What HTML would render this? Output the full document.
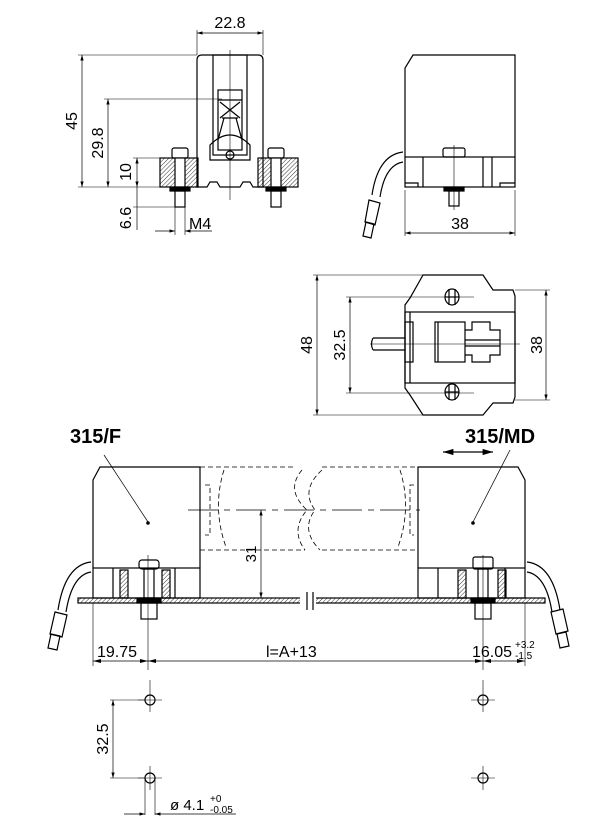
<!DOCTYPE html>
<html><head><meta charset="utf-8"><style>
html,body{margin:0;padding:0;background:#fff;}
svg{display:block;}
text{font-family:"Liberation Sans",sans-serif;fill:#000;}
</style></head><body>
<svg width="608" height="831" viewBox="0 0 608 831" xmlns="http://www.w3.org/2000/svg">
<defs>
<pattern id="h" width="3" height="3" patternUnits="userSpaceOnUse" patternTransform="rotate(45)">
<line x1="0" y1="0" x2="0" y2="3" stroke="#000" stroke-width="0.8"/></pattern>
<marker id="a" viewBox="0 0 10 6" refX="10" refY="3" markerWidth="8" markerHeight="5" orient="auto-start-reverse"><path d="M0,0 L10,3 L0,6z" fill="#000"/></marker>
</defs>
<g fill="none" stroke="#000" stroke-width="1.2">
<path d="M197,60 Q197,55 202,55 L258,55 Q263,55 263,60 L263,160"/>
<line x1="197" y1="60" x2="197" y2="160"/>
<rect x="213" y="55" width="34" height="100"/>
<rect x="218" y="90" width="24" height="60"/>
<path d="M218,100 L242,100 M220,102 L240,118 M240,102 L220,118 M222,118 L238,118 M224,118 L218,140 M236,118 L242,140 M210,145 Q230,125 250,145 L250,160 L210,160z"/>
<circle cx="230" cy="155" r="4"/>
<line x1="230" y1="50" x2="230" y2="200" stroke-width="0.6"/>
<path d="M197,160 L197,187 L207,187 L210,182 L217,182 L220,187 L240,187 L243,182 L250,182 L253,187 L263,187 L263,160"/>
<rect x="160" y="158" width="38" height="29" fill="url(#h)"/>
<rect x="258" y="158" width="40" height="29" fill="url(#h)"/>
<rect x="172" y="148" width="16" height="10" rx="2" fill="#fff"/>
<rect x="175" y="158" width="10" height="29" fill="#fff"/>
<rect x="170" y="187" width="20" height="4" fill="#000"/>
<rect x="175" y="191" width="10" height="16"/>
<rect x="268" y="148" width="16" height="10" rx="2" fill="#fff"/>
<rect x="271" y="158" width="10" height="29" fill="#fff"/>
<rect x="266" y="187" width="20" height="4" fill="#000"/>
<rect x="271" y="191" width="10" height="16"/>
<line x1="197" y1="30" x2="197" y2="55" stroke-width="0.6"/>
<line x1="263" y1="30" x2="263" y2="55" stroke-width="0.6"/>
<line x1="197" y1="33" x2="263" y2="33" stroke-width="0.7" marker-start="url(#a)" marker-end="url(#a)"/>
<line x1="78" y1="55" x2="197" y2="55" stroke-width="0.6"/>
<line x1="78" y1="187" x2="197" y2="187" stroke-width="0.6"/>
<line x1="82" y1="55" x2="82" y2="187" stroke-width="0.7" marker-start="url(#a)" marker-end="url(#a)"/>
<line x1="104" y1="99" x2="222" y2="99" stroke-width="0.6"/>
<line x1="108" y1="99" x2="108" y2="187" stroke-width="0.7" marker-start="url(#a)" marker-end="url(#a)"/>
<line x1="133" y1="158" x2="160" y2="158" stroke-width="0.6"/>
<line x1="137" y1="158" x2="137" y2="187" stroke-width="0.7" marker-start="url(#a)" marker-end="url(#a)"/>
<line x1="133" y1="207" x2="175" y2="207" stroke-width="0.6"/>
<line x1="137" y1="187" x2="137" y2="230" stroke-width="0.7"/>
<line x1="175" y1="207" x2="175" y2="235" stroke-width="0.6"/>
<line x1="185" y1="207" x2="185" y2="235" stroke-width="0.6"/>
<line x1="155" y1="231" x2="175" y2="231" stroke-width="0.7" marker-end="url(#a)"/>
<line x1="212" y1="231" x2="185" y2="231" stroke-width="0.7" marker-end="url(#a)"/>

<path d="M405,157 L405,68 L413,55 L515,55 L515,157"/>
<rect x="405" y="157" width="110" height="30"/>
<line x1="423" y1="157" x2="423" y2="187"/><line x1="483" y1="157" x2="483" y2="187"/><line x1="492" y1="157" x2="492" y2="187"/>
<path d="M405,183 L418,183 L418,187 M515,183 L500,183 L500,187"/>
<rect x="443" y="148" width="22" height="9" rx="2"/>
<rect x="444" y="187" width="20" height="4" fill="#000"/>
<rect x="449" y="191" width="10" height="15"/>
<line x1="454" y1="145" x2="454" y2="210" stroke-width="0.6"/>
<path d="M403,152 Q378,155 372,195 M403,162 Q385,165 380,197"/>
<path d="M369,200 L380,203 L375,225 L365,222z"/>
<path d="M366,222 L374,224 L371,238 L363,236z"/>
<line x1="405" y1="190" x2="405" y2="236" stroke-width="0.6"/>
<line x1="515" y1="190" x2="515" y2="236" stroke-width="0.6"/>
<line x1="405" y1="233" x2="515" y2="233" stroke-width="0.7" marker-start="url(#a)" marker-end="url(#a)"/>

<path d="M423,275 L483,275 L493,290 L513,290 L515,296 L515,397 L513,403 L493,403 L483,415 L423,415 L410,395 L405,388 L405,305 L410,298z"/>
<rect x="405" y="312" width="110" height="71"/>
<line x1="410" y1="312" x2="410" y2="383"/>
<rect x="405" y="322" width="8" height="40"/>
<rect x="435" y="322" width="30" height="40"/>
<path d="M465,330 L472,330 L472,322 L490,322 L490,330 L500,330 L500,355 L490,355 L490,362 L472,362 L472,355 L465,355"/>
<line x1="438" y1="322" x2="438" y2="362"/>
<path d="M373,338 L405,338 M373,350 L405,350 M373,338 Q370,344 373,350"/>
<line x1="465" y1="340" x2="500" y2="340"/><line x1="465" y1="346" x2="500" y2="346"/>
<line x1="370" y1="344" x2="520" y2="344" stroke-width="0.6"/>
<ellipse cx="452" cy="297" rx="7" ry="8"/><line x1="449" y1="289" x2="449" y2="305"/><line x1="455" y1="289" x2="455" y2="305"/><line x1="445" y1="297" x2="459" y2="297"/>
<ellipse cx="452" cy="392" rx="7" ry="8"/><line x1="449" y1="384" x2="449" y2="400"/><line x1="455" y1="384" x2="455" y2="400"/><line x1="445" y1="392" x2="459" y2="392"/>
<line x1="313" y1="275" x2="423" y2="275" stroke-width="0.6"/>
<line x1="313" y1="415" x2="423" y2="415" stroke-width="0.6"/>
<line x1="317" y1="275" x2="317" y2="415" stroke-width="0.7" marker-start="url(#a)" marker-end="url(#a)"/>
<line x1="346" y1="297" x2="474" y2="297" stroke-width="0.6"/>
<line x1="346" y1="393" x2="474" y2="393" stroke-width="0.6"/>
<line x1="350" y1="297" x2="350" y2="393" stroke-width="0.7" marker-start="url(#a)" marker-end="url(#a)"/>
<line x1="515" y1="290" x2="550" y2="290" stroke-width="0.6"/>
<line x1="515" y1="400" x2="550" y2="400" stroke-width="0.6"/>
<line x1="546" y1="290" x2="546" y2="400" stroke-width="0.7" marker-start="url(#a)" marker-end="url(#a)"/>

<rect x="78" y="598" width="467" height="5" fill="url(#h)"/>
<rect x="300" y="596" width="16" height="9" fill="#fff" stroke="none"/>
<line x1="307" y1="592" x2="307" y2="610"/><line x1="313" y1="592" x2="313" y2="610"/>
<path d="M93,568 L93,480 L100,467 L200,467 L200,568"/>
<rect x="93" y="568" width="107" height="30"/>
<line x1="113" y1="568" x2="113" y2="598"/><line x1="175" y1="568" x2="175" y2="598"/>
<rect x="120" y="570" width="8" height="28" fill="url(#h)"/>
<rect x="162" y="570" width="8" height="28" fill="url(#h)"/>
<rect x="139" y="560" width="20" height="9" rx="3"/>
<rect x="144" y="569" width="10" height="29"/>
<rect x="137" y="598" width="24" height="5" fill="#000"/>
<rect x="141" y="603" width="16" height="16"/>
<line x1="148" y1="555" x2="148" y2="670" stroke-width="0.6"/>
<path d="M91,562 Q65,565 58,610 M91,572 Q72,575 66,612"/>
<path d="M55,612 L67,615 L62,637 L50,634z"/><path d="M51,634 L60,636 L57,650 L48,648z"/>
<path d="M418,568 L418,467 L518,467 L525,480 L525,568"/>
<rect x="418" y="568" width="107" height="30"/>
<line x1="438" y1="568" x2="438" y2="598"/><line x1="505" y1="568" x2="505" y2="598"/>
<rect x="458" y="570" width="8" height="28" fill="url(#h)"/>
<rect x="498" y="570" width="8" height="28" fill="url(#h)"/>
<rect x="473" y="557" width="20" height="12" rx="2"/>
<rect x="478" y="569" width="10" height="29"/>
<rect x="471" y="598" width="24" height="5" fill="#000"/>
<rect x="475" y="603" width="16" height="16"/>
<line x1="483" y1="555" x2="483" y2="670" stroke-width="0.6"/>
<path d="M527,562 Q553,565 560,610 M527,572 Q546,575 552,612"/>
<path d="M551,612 L563,609 L568,631 L556,634z"/><path d="M557,634 L566,632 L569,646 L560,648z"/>
<g stroke-dasharray="5,3" stroke-width="0.8">
<line x1="200" y1="467" x2="295" y2="467"/><line x1="322" y1="467" x2="418" y2="467"/>
<line x1="200" y1="550" x2="305" y2="550"/><line x1="322" y1="550" x2="418" y2="550"/>
<path d="M224,470 Q212,508 226,547"/><path d="M400,470 Q412,508 398,547"/>
<path d="M302,470 Q285,490 307,510 Q290,530 305,550"/>
<path d="M322,470 Q300,490 315,510 Q300,530 320,550"/>
<path d="M205,485 L210,485 L210,535 L205,535 M414,485 L410,485 L410,535 L414,535"/>
</g>
<line x1="188" y1="510" x2="420" y2="510" stroke-dasharray="30,6,6,6" stroke-width="0.8"/>
<line x1="261" y1="510" x2="261" y2="598" stroke-width="0.7" marker-start="url(#a)" marker-end="url(#a)"/>
<line x1="104" y1="455" x2="148" y2="522" stroke-width="0.7"/>
<circle cx="148" cy="523" r="1.2" fill="#000"/>
<line x1="510" y1="450" x2="473" y2="522" stroke-width="0.7"/>
<circle cx="473" cy="523" r="1.2" fill="#000"/>
<line x1="443" y1="452" x2="493" y2="452" stroke-width="1.3" marker-start="url(#a)" marker-end="url(#a)"/>
<line x1="93" y1="603" x2="93" y2="666" stroke-width="0.6"/>
<line x1="525" y1="603" x2="525" y2="666" stroke-width="0.6"/>
<line x1="93" y1="661" x2="525" y2="661" stroke-width="0.7"/>
<path d="M93,661 l8,-2 v4z M148,661 l-8,-2 v4z M148,661 l8,-2 v4z M483,661 l-8,-2 v4z M483,661 l8,-2 v4z M525,661 l-8,-2 v4z" fill="#000" stroke="none"/>
<line x1="150" y1="680" x2="150" y2="712" stroke-width="0.6"/><line x1="138" y1="700" x2="162" y2="700" stroke-width="0.6"/><circle cx="150" cy="700" r="5"/>
<line x1="150" y1="766" x2="150" y2="790" stroke-width="0.6"/><line x1="138" y1="778" x2="162" y2="778" stroke-width="0.6"/><circle cx="150" cy="778" r="5"/>
<line x1="483" y1="680" x2="483" y2="712" stroke-width="0.6"/><line x1="471" y1="700" x2="495" y2="700" stroke-width="0.6"/><circle cx="483" cy="700" r="5"/>
<line x1="483" y1="766" x2="483" y2="790" stroke-width="0.6"/><line x1="471" y1="778" x2="495" y2="778" stroke-width="0.6"/><circle cx="483" cy="778" r="5"/>
<line x1="110" y1="700" x2="145" y2="700" stroke-width="0.6"/><line x1="110" y1="778" x2="145" y2="778" stroke-width="0.6"/>
<line x1="113" y1="700" x2="113" y2="778" stroke-width="0.7" marker-start="url(#a)" marker-end="url(#a)"/>
<line x1="145" y1="778" x2="145" y2="815" stroke-width="0.6"/><line x1="155" y1="778" x2="155" y2="815" stroke-width="0.6"/>
<line x1="124" y1="814" x2="145" y2="814" stroke-width="0.7" marker-end="url(#a)"/>
<line x1="236" y1="814" x2="155" y2="814" stroke-width="0.7" marker-end="url(#a)"/>
</g>
<text x="230" y="28" font-size="16" text-anchor="middle">22.8</text>
<text x="77" y="121" font-size="16" text-anchor="middle" transform="rotate(-90 77 121)">45</text>
<text x="103" y="143" font-size="16" text-anchor="middle" transform="rotate(-90 103 143)">29.8</text>
<text x="131" y="172" font-size="16" text-anchor="middle" transform="rotate(-90 131 172)">10</text>
<text x="131" y="218" font-size="16" text-anchor="middle" transform="rotate(-90 131 218)">6.6</text>
<text x="189" y="229" font-size="16">M4</text>
<text x="460" y="229" font-size="16" text-anchor="middle">38</text>
<text x="312" y="345" font-size="16" text-anchor="middle" transform="rotate(-90 312 345)">48</text>
<text x="345" y="345" font-size="16" text-anchor="middle" transform="rotate(-90 345 345)">32.5</text>
<text x="542" y="345" font-size="16" text-anchor="middle" transform="rotate(-90 542 345)">38</text>
<text x="70" y="443" font-size="20" font-weight="bold">315/F</text>
<text x="465" y="443" font-size="20" font-weight="bold">315/MD</text>
<text x="256" y="554" font-size="15" text-anchor="middle" transform="rotate(-90 256 554)">31</text>
<text x="97" y="657" font-size="16">19.75</text>
<text x="266" y="657" font-size="16">l=A+13</text>
<text x="472" y="657" font-size="16">16.05</text>
<text x="515" y="648" font-size="10">+3.2</text>
<text x="515" y="659" font-size="10">-1.5</text>
<text x="108" y="739" font-size="16" text-anchor="middle" transform="rotate(-90 108 739)">32.5</text>
<text x="170" y="810" font-size="15">ø 4.1</text>
<text x="210" y="802" font-size="10">+0</text>
<text x="210" y="813" font-size="10">-0.05</text>
</svg>
</body></html>
